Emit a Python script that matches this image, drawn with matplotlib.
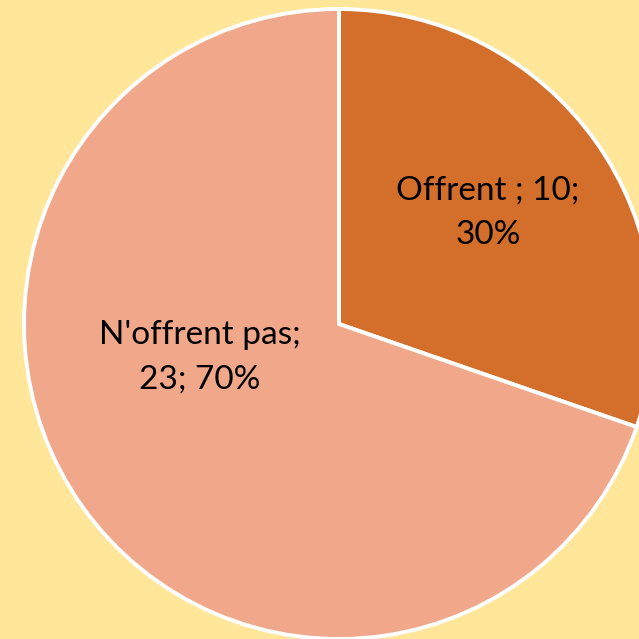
import matplotlib.pyplot as plt

categories = ["Offrent", "N'offrent pas"]
values = [10, 23]
labels = ["Offrent ; 10;\n30%", "N'offrent pas;\n23; 70%"]
colors = ["#D46E2B", "#F1A88A"]

fig = plt.figure(figsize=(6.39, 6.39), dpi=100, facecolor="#FFE699")
ax = fig.add_axes([0, 0, 1, 1])
ax.set_facecolor("#FFE699")

ax.pie(values, colors=colors, startangle=90, counterclock=False,
       center=(339, 315), radius=315, frame=True,
       wedgeprops=dict(edgecolor="white", linewidth=2.8))
ax.set_xlim(0, 639)
ax.set_ylim(0, 639)
ax.set_aspect("equal")
ax.axis("off")

font = dict(family=["Lato", "DejaVu Sans"], fontsize=24, ha="center", va="center",
            color="black", linespacing=1.6)
ax.text(488, 639 - 213, labels[0], **font)
ax.text(200, 639 - 357, labels[1], **font)

fig.savefig("out.png", dpi=100, facecolor=fig.get_facecolor())
